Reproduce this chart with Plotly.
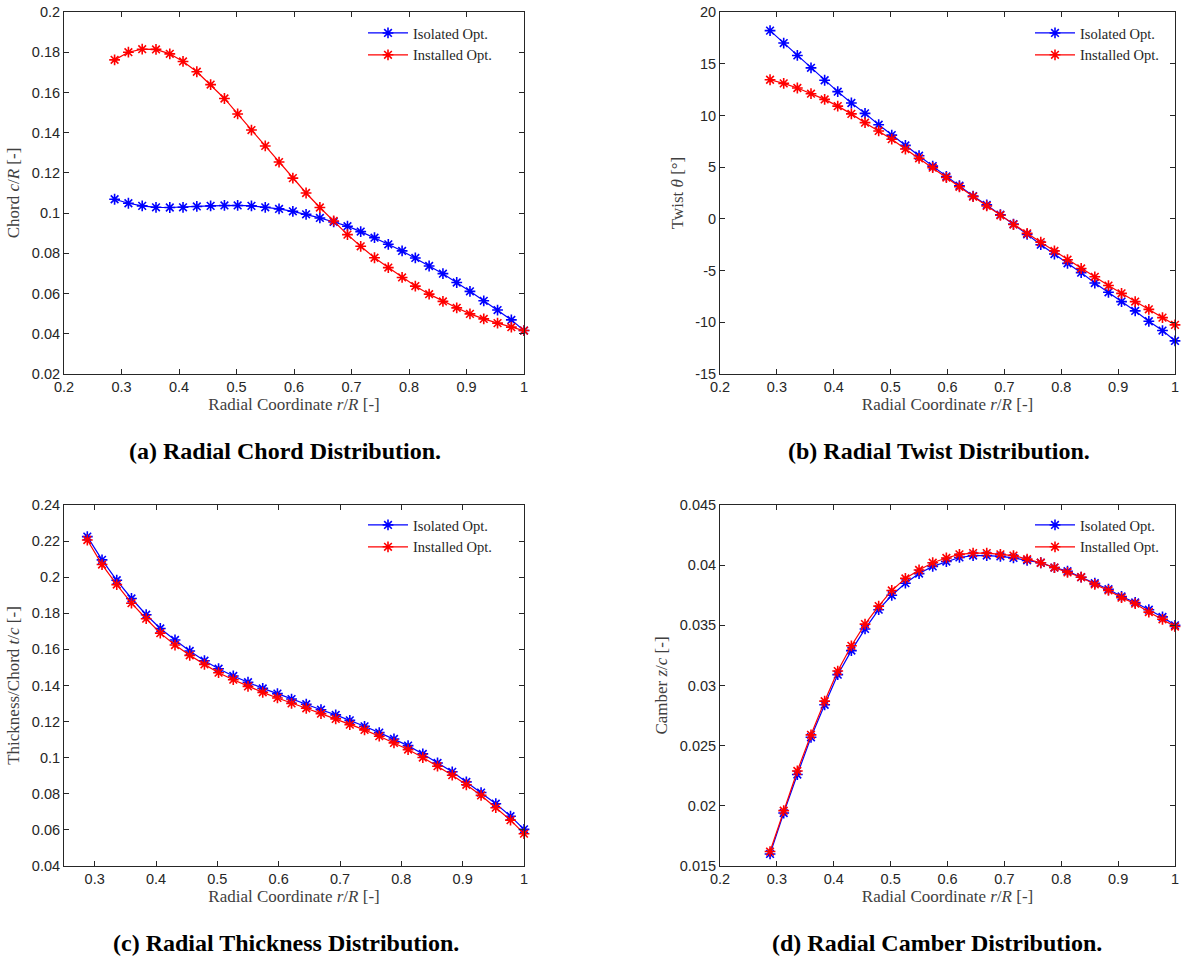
import plotly.graph_objects as go

# ---------------- data ----------------
r_R = [0.288, 0.312, 0.336, 0.360, 0.384, 0.407, 0.431, 0.455, 0.479, 0.502,
       0.526, 0.550, 0.574, 0.598, 0.621, 0.645, 0.669, 0.693, 0.716, 0.740,
       0.764, 0.788, 0.811, 0.835, 0.859, 0.883, 0.906, 0.930, 0.954, 0.978, 1.000]

chord_isolated = [0.1069, 0.1049, 0.1036, 0.1029, 0.1028, 0.1029, 0.1033, 0.1036, 0.1038, 0.1038,
                  0.1036, 0.1029, 0.1021, 0.1009, 0.0994, 0.0976, 0.0956, 0.0935, 0.0908, 0.0878,
                  0.0845, 0.0812, 0.0777, 0.0737, 0.0699, 0.0655, 0.0611, 0.0564, 0.0518, 0.0469, 0.0416]
chord_installed = [0.1762, 0.1800, 0.1815, 0.1814, 0.1792, 0.1754, 0.1703, 0.1639, 0.1570, 0.1493,
                   0.1413, 0.1334, 0.1254, 0.1174, 0.1100, 0.1028, 0.0961, 0.0893, 0.0835, 0.0778,
                   0.0729, 0.0680, 0.0637, 0.0597, 0.0561, 0.0529, 0.0499, 0.0474, 0.0453, 0.0433, 0.0416]

twist_isolated = [18.2, 17.0, 15.8, 14.6, 13.4, 12.3, 11.2, 10.2, 9.1, 8.1,
                  7.1, 6.1, 5.1, 4.1, 3.2, 2.2, 1.35, 0.4, -0.5, -1.5,
                  -2.5, -3.4, -4.3, -5.2, -6.2, -7.1, -8.0, -8.9, -9.9, -10.8, -11.8]
twist_installed = [13.45, 13.1, 12.65, 12.1, 11.55, 10.9, 10.15, 9.3, 8.5, 7.7,
                   6.75, 5.85, 4.95, 4.0, 3.1, 2.15, 1.25, 0.35, -0.55, -1.4,
                   -2.25, -3.1, -3.95, -4.8, -5.6, -6.45, -7.2, -8.0, -8.75, -9.55, -10.25]

thick_isolated = [0.2225, 0.2096, 0.1983, 0.1882, 0.1792, 0.1716, 0.1652, 0.1591, 0.1537, 0.1493,
                  0.1453, 0.1418, 0.1384, 0.1355, 0.1325, 0.1296, 0.1266, 0.1237, 0.1207, 0.1174,
                  0.1139, 0.1104, 0.1067, 0.1021, 0.0971, 0.0922, 0.0866, 0.0807, 0.0745, 0.0676, 0.0603]
thick_installed = [0.2206, 0.2070, 0.1959, 0.1856, 0.1770, 0.1690, 0.1624, 0.1567, 0.1517, 0.1471,
                   0.1432, 0.1395, 0.1362, 0.1331, 0.1301, 0.1274, 0.1244, 0.1215, 0.1183, 0.1154,
                   0.1119, 0.1082, 0.1045, 0.1001, 0.0953, 0.0903, 0.0850, 0.0791, 0.0723, 0.0654, 0.0579]

camber_isolated = [0.0160, 0.0194, 0.0226, 0.0257, 0.0284, 0.0309, 0.0329, 0.0347, 0.0363, 0.0375,
                   0.0385, 0.0393, 0.0399, 0.0403, 0.04064, 0.0408, 0.0408, 0.04073, 0.0406, 0.0404,
                   0.0402, 0.0398, 0.0395, 0.0390, 0.0385, 0.0380, 0.0374, 0.0369, 0.0363, 0.0357, 0.0350]
camber_installed = [0.0162, 0.0196, 0.0229, 0.0259, 0.0287, 0.0312, 0.0333, 0.0351, 0.0366, 0.0379,
                    0.0389, 0.0396, 0.0402, 0.0406, 0.0409, 0.0410, 0.0410, 0.0409, 0.0408, 0.0405,
                    0.0402, 0.0398, 0.0394, 0.0390, 0.0384, 0.0379, 0.0373, 0.0368, 0.0361, 0.0355, 0.0349]

series_names = ["Isolated Opt.", "Installed Opt."]
series_colors = ["#0000ff", "#ff0000"]

x_ticks_ab = [0.2, 0.3, 0.4, 0.5, 0.6, 0.7, 0.8, 0.9, 1.0]
x_text_ab = ["0.2", "0.3", "0.4", "0.5", "0.6", "0.7", "0.8", "0.9", "1"]
x_ticks_c = [0.3, 0.4, 0.5, 0.6, 0.7, 0.8, 0.9, 1.0]
x_text_c = ["0.3", "0.4", "0.5", "0.6", "0.7", "0.8", "0.9", "1"]

y_ticks_a = [0.02, 0.04, 0.06, 0.08, 0.10, 0.12, 0.14, 0.16, 0.18, 0.20]
y_text_a = ["0.02", "0.04", "0.06", "0.08", "0.1", "0.12", "0.14", "0.16", "0.18", "0.2"]
y_ticks_b = [-15, -10, -5, 0, 5, 10, 15, 20]
y_text_b = ["-15", "-10", "-5", "0", "5", "10", "15", "20"]
y_ticks_c = [0.04, 0.06, 0.08, 0.10, 0.12, 0.14, 0.16, 0.18, 0.20, 0.22, 0.24]
y_text_c = ["0.04", "0.06", "0.08", "0.1", "0.12", "0.14", "0.16", "0.18", "0.2", "0.22", "0.24"]
y_ticks_d = [0.015, 0.020, 0.025, 0.030, 0.035, 0.040, 0.045]
y_text_d = ["0.015", "0.02", "0.025", "0.03", "0.035", "0.04", "0.045"]

captions = ["(a) Radial Chord Distribution.", "(b) Radial Twist Distribution.",
            "(c) Radial Thickness Distribution.", "(d) Radial Camber Distribution."]

# ---------------- layout helpers ----------------
W, H = 1181, 959
def px_x(a, b):
    return [a / W, b / W]
def px_y(top, bottom):
    return [1 - bottom / H, 1 - top / H]

AX = "#262626"
TICKFONT = dict(family="Liberation Sans, Arial, sans-serif", size=14.5, color=AX)
SERIF = "Liberation Serif, Times New Roman, serif"
TITLEFONT = dict(family=SERIF, size=17, color="#404040")

panels = [
    dict(x=px_x(64, 524), y=px_y(12, 374), xr=[0.2, 1.0], yr=[0.02, 0.2],
         xt=(x_ticks_ab, x_text_ab), yt=(y_ticks_a, y_text_a),
         ytitle="Chord <i>c</i>/<i>R</i> [-]",
         data=(chord_isolated, chord_installed), cap=(285, 451), leg=(363, 17)),
    dict(x=px_x(720, 1175), y=px_y(12, 374), xr=[0.2, 1.0], yr=[-15, 20],
         xt=(x_ticks_ab, x_text_ab), yt=(y_ticks_b, y_text_b),
         ytitle="Twist <i>θ</i> [°]",
         data=(twist_isolated, twist_installed), cap=(939, 451), leg=(1030, 17)),
    dict(x=px_x(64, 524), y=px_y(505, 866), xr=[0.25, 1.0], yr=[0.04, 0.24],
         xt=(x_ticks_c, x_text_c), yt=(y_ticks_c, y_text_c),
         ytitle="Thickness/Chord <i>t</i>/<i>c</i> [-]",
         data=(thick_isolated, thick_installed), cap=(286, 943), leg=(363, 509)),
    dict(x=px_x(720, 1175), y=px_y(505, 866), xr=[0.2, 1.0], yr=[0.015, 0.045],
         xt=(x_ticks_ab, x_text_ab), yt=(y_ticks_d, y_text_d),
         ytitle="Camber <i>z</i>/<i>c</i> [-]",
         data=(camber_isolated, camber_installed), cap=(937, 943), leg=(1030, 509)),
]

fig = go.Figure()
layout = dict(width=W, height=H, margin=dict(l=0, r=0, t=0, b=0, autoexpand=False),
              paper_bgcolor="white", plot_bgcolor="white", showlegend=True)
annotations = []

for i, p in enumerate(panels):
    k = "" if i == 0 else str(i + 1)
    legname = "legend" + k
    for j in range(2):
        fig.add_trace(go.Scatter(
            x=r_R, y=p["data"][j], mode="lines+markers", name=series_names[j],
            xaxis="x" + k, yaxis="y" + k, legend=legname, cliponaxis=False,
            line=dict(color=series_colors[j], width=1.2),
            marker=dict(symbol="asterisk-open", size=9,
                        line=dict(color=series_colors[j], width=1.6)),
        ))
    common = dict(showline=True, linecolor=AX, linewidth=1, mirror="ticks",
                  ticks="inside", ticklen=5, tickcolor=AX, tickwidth=1,
                  showgrid=False, zeroline=False, tickfont=TICKFONT, automargin=False)
    layout["xaxis" + k] = dict(domain=p["x"], range=p["xr"], anchor="y" + k,
                               tickvals=p["xt"][0], ticktext=p["xt"][1],
                               title=dict(text="Radial Coordinate <i>r</i>/<i>R</i> [-]",
                                          font=TITLEFONT, standoff=0),
                               **common)
    layout["yaxis" + k] = dict(domain=p["y"], range=p["yr"], anchor="x" + k,
                               tickvals=p["yt"][0], ticktext=p["yt"][1],
                               title=dict(text=p["ytitle"], font=TITLEFONT, standoff=7),
                               **common)
    layout[legname] = dict(x=p["leg"][0] / W, y=1 - p["leg"][1] / H,
                           xanchor="left", yanchor="top",
                           bgcolor="rgba(0,0,0,0)", borderwidth=0,
                           itemwidth=40, tracegroupgap=0,
                           font=dict(family=SERIF, size=14.5, color="#262626"))
    annotations.append(dict(text="<b>" + captions[i] + "</b>", xref="paper", yref="paper",
                            x=p["cap"][0] / W, y=1 - p["cap"][1] / H,
                            xanchor="center", yanchor="middle", showarrow=False,
                            font=dict(family=SERIF, size=24, color="black")))

layout["annotations"] = annotations
fig.update_layout(**layout)
fig.write_html("out.html", config={"displayModeBar": False},
               post_script="document.body.style.margin='0px';document.body.style.overflow='hidden';")
